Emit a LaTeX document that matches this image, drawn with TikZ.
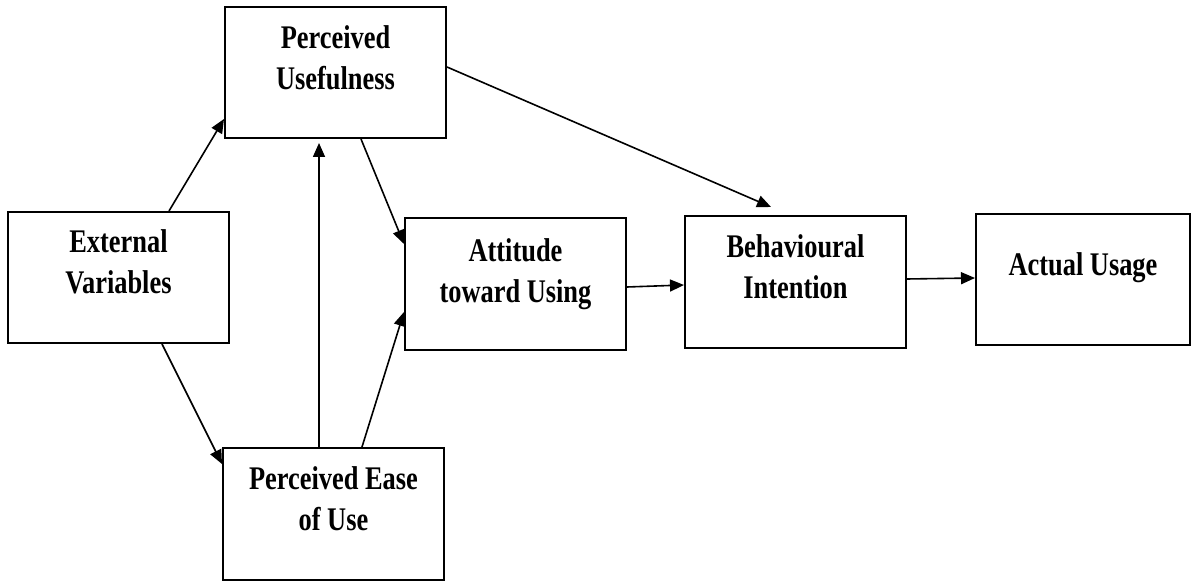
\documentclass[tikz,border=0pt]{standalone}
\usepackage{fontspec}
\newfontfamily\lab[FakeStretch=0.8]{Liberation Serif}
\usetikzlibrary{arrows.meta}
\begin{document}
\begin{tikzpicture}[x=1pt,y=1pt,
  box/.style={draw, line width=2pt, minimum width=221pt, minimum height=131pt, inner sep=0pt},
  txt/.style={font=\lab\bfseries\fontsize{33}{41}\selectfont, align=center, anchor=base, inner sep=0pt},
  link/.style={line width=1.6pt, -{Triangle[length=14pt,width=12pt]}}]
\useasboundingbox (0,0) rectangle (1192,581);
% boxes
\node[box] (pu) at (335.5,508.5) {};
\node[box] (ev) at (118.5,303.5) {};
\node[box, minimum height=132pt] (peou) at (333.5,67) {};
\node[box, minimum height=132pt] (atu) at (515.5,297) {};
\node[box, minimum height=132pt] (bi) at (795.5,299) {};
\node[box, minimum width=214pt] (au) at (1083,301.5) {};
% labels (base anchor sits on the last line)
\node[txt] (tpu) at ([yshift=-84pt]pu.north) {Perceived\\Usefulness};
\node[txt] (tev) at ([yshift=-83pt]ev.north) {External\\Variables};
\node[txt] (tpeou) at ([yshift=-84pt]peou.north) {Perceived Ease\\of Use};
\node[txt] (tatu) at ([yshift=-86pt]atu.north) {Attitude\\toward Using};
\node[txt] (tbi) at ([yshift=-84pt]bi.north) {Behavioural\\Intention};
\node[txt] (tau) at ([yshift=-63pt]au.north) {Actual Usage};
% connectors
\draw[link] ([xshift=162pt]ev.north west) -- ([yshift=20pt]pu.south west);
\draw[link] ([xshift=155pt]ev.south west) -- ([yshift=-17pt]peou.north west);
\draw[link] ([xshift=97pt]peou.north west) -- ([xshift=95pt,yshift=-4pt]pu.south west);
\draw[link] ([xshift=137pt]pu.south west) -- ([yshift=-27pt]atu.north west);
\draw[link] ([xshift=140pt]peou.north west) -- ([yshift=39pt]atu.south west);
\draw[link] ([yshift=64pt]atu.south east) -- ([yshift=64pt]bi.south west);
\draw[link] ([yshift=70pt]bi.south east) -- ([yshift=68pt]au.south west);
\draw[link] ([yshift=-61pt]pu.north east) -- ([xshift=87pt,yshift=8pt]bi.north west);
\end{tikzpicture}
\end{document}
